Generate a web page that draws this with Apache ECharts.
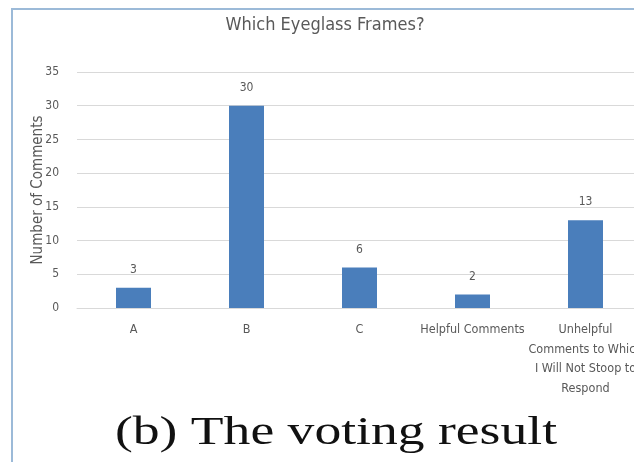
<!DOCTYPE html>
<html>
<head>
<meta charset="utf-8">
<script src="https://cdn.jsdelivr.net/npm/echarts@6/dist/echarts.min.js"></script>
<style>
  html, body { margin: 0; padding: 0; background: #fff; }
  #chart { width: 634px; height: 462px; }
</style>
</head>
<body>
<div id="chart"></div>
<script>
const categories = ['A', 'B', 'C', 'Helpful Comments', 'Unhelpful\nComments to Which\nI Will Not Stoop to\nRespond']
const comments = [3, 30, 6, 2, 13]
const yTicks = [0, 5, 10, 15, 20, 25, 30, 35]

const chart = echarts.init(document.getElementById('chart'))
const textGrey = '#595959'
const font = '"Liberation Sans Narrow", "DejaVu Sans Condensed", "Noto Sans", sans-serif'

chart.setOption({
  animation: false,
  title: {
    text: 'Which Eyeglass Frames?',
    left: 320,
    top: 11,
    textAlign: 'center',
    textStyle: { color: textGrey, fontSize: 18, fontWeight: 'normal', fontFamily: font },
  },
  graphic: [
    {
      type: 'polyline',
      shape: { points: [[12, 462], [12, 9], [640, 9]] },
      style: { stroke: '#9cbad8', lineWidth: 2, fill: null },
    },
    {
      type: 'text',
      x: 336,
      y: 413,
      scaleX: 1.34,
      style: {
        text: '(b) The voting result',
        align: 'center',
        fontFamily: '"Liberation Serif", "DejaVu Serif", serif',
        fontSize: 40,
        fill: '#111',
      },
    },
  ],
  grid: { left: 77, top: 72, width: 565, bottom: 154, outerBoundsMode: 'none' },
  xAxis: {
    type: 'category',
    data: categories,
    axisTick: { show: false },
    axisLine: { lineStyle: { color: '#d9d9d9' } },
    axisLabel: {
      interval: 0,
      color: textGrey,
      fontSize: 12.5,
      fontFamily: font,
      lineHeight: 19.5,
      margin: 12,
    },
  },
  yAxis: {
    type: 'value',
    min: yTicks[0],
    max: yTicks[yTicks.length - 1],
    interval: 5,
    name: 'Number of Comments',
    nameLocation: 'middle',
    nameGap: 31,
    nameMoveOverlap: false,
    nameTextStyle: { color: textGrey, fontSize: 15, fontFamily: font },
    axisLine: { show: false },
    axisTick: { show: false },
    splitLine: { lineStyle: { color: '#d9d9d9' } },
    axisLabel: { color: textGrey, fontSize: 12, fontFamily: font, margin: 18 },
  },
  series: [
    {
      type: 'bar',
      data: comments,
      barWidth: 35,
      itemStyle: { color: '#4a7ebb' },
      label: {
        show: true,
        position: 'top',
        distance: 12,
        color: textGrey,
        fontSize: 12,
        fontFamily: font,
      },
    },
  ],
})
</script>
</body>
</html>
